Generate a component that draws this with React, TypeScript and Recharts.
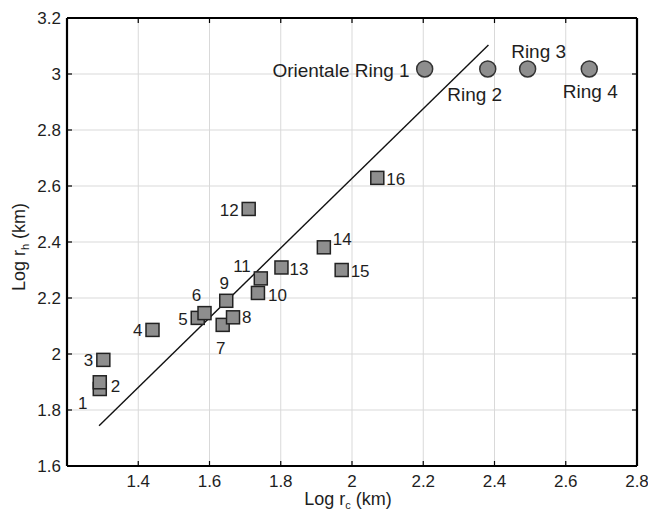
import { CartesianGrid, ReferenceLine, Scatter, ScatterChart, XAxis, YAxis } from "recharts";

// basin data: log crater radius vs log ring radius
const basinIds = ["1", "2", "3", "4", "5", "6", "7", "8", "9", "10", "11", "12", "13", "14", "15", "16"];
const basinLogRc = [1.292, 1.292, 1.302, 1.44, 1.567, 1.586, 1.637, 1.666, 1.647, 1.736, 1.744, 1.71, 1.802, 1.921, 1.971, 2.071];
const basinLogRh = [1.875, 1.899, 1.979, 2.086, 2.129, 2.146, 2.104, 2.131, 2.19, 2.218, 2.27, 2.518, 2.309, 2.381, 2.3, 2.629];

const ringNames = ["Orientale Ring 1", "Ring 2", "Ring 3", "Ring 4"];
const ringLogRc = [2.204, 2.381, 2.493, 2.666];
const ringLogRh = [3.018, 3.018, 3.018, 3.018];

const fitLogRc = [1.29, 2.383];
const fitLogRh = [1.744, 3.104];

const xDomain = [1.2, 2.8];
const yDomain = [1.6, 3.2];
const xTicks = [1.4, 1.6, 1.8, 2, 2.2, 2.4, 2.6, 2.8];
const yTicks = [1.6, 1.8, 2, 2.2, 2.4, 2.6, 2.8, 3, 3.2];

// plot box in px (matches the margins below)
const PLOT = { left: 67, right: 637, top: 18, bottom: 466 };

// label placement next to each marker (px offsets, anchor)
const basinLabelPos: Record<string, [number, number, string]> = {
  "1": [-17, 14, "middle"],
  "2": [11, 4, "start"],
  "3": [-10, 0, "end"],
  "4": [-10, 0, "end"],
  "5": [-10, 1, "end"],
  "6": [-8, -18, "middle"],
  "7": [-2, 23, "middle"],
  "8": [9, 0, "start"],
  "9": [-2, -18, "middle"],
  "10": [10, 2, "start"],
  "11": [-10, -13, "end"],
  "12": [-10, 1, "end"],
  "13": [8, 1, "start"],
  "14": [9, -8, "start"],
  "15": [9, 1, "start"],
  "16": [9, 1, "start"],
};
const ringLabelPos: [number, number, string][] = [
  [-15, 1, "end"],
  [-13, 25, "middle"],
  [11, -18, "middle"],
  [1, 22, "middle"],
];

const basins = basinIds.map((id, i) => ({ id, x: basinLogRc[i], y: basinLogRh[i] }));
const rings = ringNames.map((name, i) => ({ id: name, x: ringLogRc[i], y: ringLogRh[i], i }));
const fit = fitLogRc.map((x, i) => ({ x, y: fitLogRh[i] }));

const textColor = "#1e1e1e";
const markerFill = "#8e8e8e";

function BasinShape(props: any) {
  const { cx, cy, payload } = props;
  const [dx, dy, anchor] = basinLabelPos[payload.id];
  return (
    <g>
      <rect x={cx - 6.5} y={cy - 6.5} width={13} height={13} fill={markerFill} stroke="#222" strokeWidth={1.5} />
      <text x={cx + dx} y={cy + dy} dy="0.36em" textAnchor={anchor as any} fontSize={17} fill={textColor}>
        {payload.id}
      </text>
    </g>
  );
}

function RingShape(props: any) {
  const { cx, cy, payload } = props;
  const [dx, dy, anchor] = ringLabelPos[payload.i];
  return (
    <g>
      <circle cx={cx} cy={cy} r={8} fill={markerFill} stroke="#333" strokeWidth={1.5} />
      <text x={cx + dx} y={cy + dy} dy="0.36em" textAnchor={anchor as any} fontSize={19} fill={textColor}>
        {payload.id}
      </text>
    </g>
  );
}

// bottom tick: label plus inward tick marks on bottom and top edges
function XTick(props: any) {
  const { x, y, payload } = props;
  const c = payload.coordinate;
  return (
    <g>
      <line x1={c} x2={c} y1={PLOT.bottom} y2={PLOT.bottom - 5} stroke="#000" strokeWidth={1.2} />
      <line x1={c} x2={c} y1={PLOT.top} y2={PLOT.top + 5} stroke="#000" strokeWidth={1.2} />
      <text x={x} y={y} dy="0.71em" textAnchor="middle" fontSize={17} fill={textColor}>
        {payload.value}
      </text>
    </g>
  );
}

// left tick: label plus inward tick marks on left and right edges
function YTick(props: any) {
  const { x, y, payload } = props;
  const c = payload.coordinate;
  return (
    <g>
      <line x1={PLOT.left} x2={PLOT.left + 5} y1={c} y2={c} stroke="#000" strokeWidth={1.2} />
      <line x1={PLOT.right} x2={PLOT.right - 5} y1={c} y2={c} stroke="#000" strokeWidth={1.2} />
      <text x={x} y={y} dy="0.36em" textAnchor="end" fontSize={17} fill={textColor}>
        {payload.value}
      </text>
    </g>
  );
}

export default function App() {
  const frame = { xAxisId: "b", yAxisId: "l", stroke: "#000", strokeWidth: 2.2, ifOverflow: "visible" as const };
  return (
    <div style={{ position: "absolute", left: 0, top: 0, background: "#fff" }}>
      <ScatterChart
        width={648}
        height={510}
        margin={{ top: PLOT.top, right: 648 - PLOT.right, bottom: 14, left: 7 }}
        style={{ fontFamily: "'Liberation Sans', Arial, Helvetica, sans-serif" }}
      >
        <CartesianGrid xAxisId="b" yAxisId="l" stroke="#d9d9d9" strokeWidth={1} />
        <XAxis
          xAxisId="b"
          type="number"
          dataKey="x"
          domain={xDomain}
          ticks={xTicks}
          height={30}
          axisLine={{ stroke: "#000", strokeWidth: 2.2 }}
          tickLine={false}
          tickSize={0}
          tickMargin={9}
          tick={XTick}
          label={{
            content: () => (
              <text x={348} y={505} textAnchor="middle" fontSize={18} fill={textColor}>
                Log r<tspan fontSize={11} dy={4}>c</tspan>
                <tspan dy={-4}> (km)</tspan>
              </text>
            ),
          }}
        />
        <YAxis
          yAxisId="l"
          type="number"
          dataKey="y"
          domain={yDomain}
          ticks={yTicks}
          width={60}
          axisLine={{ stroke: "#000", strokeWidth: 2.2 }}
          tickLine={false}
          tickSize={0}
          tickMargin={6}
          tick={YTick}
          label={{
            content: () => (
              <text x={19} y={247} transform="rotate(-90, 19, 247)" textAnchor="middle" dy="0.36em" fontSize={18} fill={textColor}>
                Log r<tspan fontSize={11} dy={4}>h</tspan>
                <tspan dy={-4}> (km)</tspan>
              </text>
            ),
          }}
        />
        <Scatter
          xAxisId="b"
          yAxisId="l"
          data={fit}
          line={{ stroke: "#111", strokeWidth: 1.4 }}
          shape={() => <g />}
          isAnimationActive={false}
        />
        <Scatter xAxisId="b" yAxisId="l" data={basins} shape={BasinShape} isAnimationActive={false} />
        <Scatter xAxisId="b" yAxisId="l" data={rings} shape={RingShape} isAnimationActive={false} />
        <ReferenceLine {...frame} x={xDomain[1]} />
        <ReferenceLine {...frame} y={yDomain[1]} />
      </ScatterChart>
    </div>
  );
}
